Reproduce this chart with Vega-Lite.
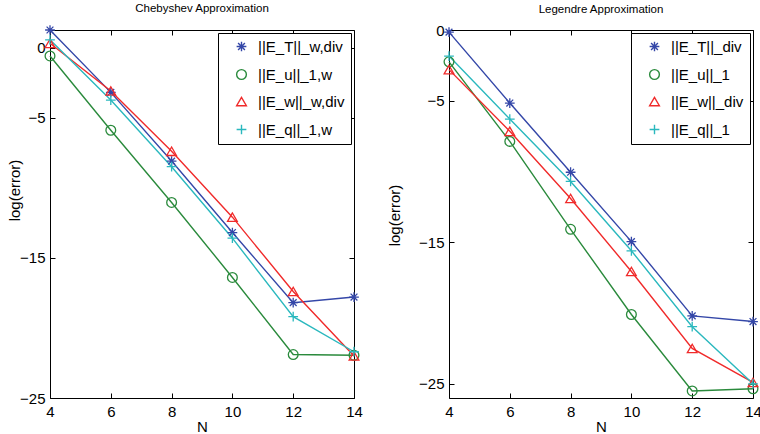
{
  "$schema": "https://vega.github.io/schema/vega-lite/v6.json",
  "background": "white",
  "padding": {"left": 6, "top": 2, "right": 5, "bottom": 0},
  "bounds": "flush",
  "spacing": 95,
  "config": {
    "font": "Liberation Sans",
    "view": {"stroke": "black", "strokeWidth": 1},
    "axis": {
      "grid": false, "domain": false, "tickColor": "black", "tickSize": -5, "tickWidth": 1, "labelFlush": false,
      "labelFontSize": 15, "labelColor": "black", "labelFont": "Liberation Sans",
      "titleFontSize": 15, "titleFontWeight": "normal", "titleColor": "black", "titleFont": "Liberation Sans"
    },
    "title": {"fontSize": 11.5, "fontWeight": "normal", "font": "Liberation Sans", "offset": 8, "color": "black"},
    "legend": {
      "orient": "top-right", "offset": 3, "fillColor": "white", "strokeColor": "black",
      "padding": 6, "rowPadding": 11, "labelFontSize": 15, "labelFont": "Liberation Sans",
      "labelColor": "black", "symbolSize": 95, "symbolStrokeWidth": 1.4, "symbolOffset": 10, "labelOffset": 9
    }
  },
  "datasets": {
    "cheb": [
      {"key": "T", "N": 4, "value": 1.25}, {"key": "T", "N": 6, "value": -3.2}, {"key": "T", "N": 8, "value": -8.1},
      {"key": "T", "N": 10, "value": -13.2}, {"key": "T", "N": 12, "value": -18.2}, {"key": "T", "N": 14, "value": -17.8},
      {"key": "u", "N": 4, "value": -0.6}, {"key": "u", "N": 6, "value": -5.9}, {"key": "u", "N": 8, "value": -11.05},
      {"key": "u", "N": 10, "value": -16.4}, {"key": "u", "N": 12, "value": -21.9}, {"key": "u", "N": 14, "value": -21.95},
      {"key": "w", "N": 4, "value": 0.3}, {"key": "w", "N": 6, "value": -3.1}, {"key": "w", "N": 8, "value": -7.4},
      {"key": "w", "N": 10, "value": -12.1}, {"key": "w", "N": 12, "value": -17.4}, {"key": "w", "N": 14, "value": -22.0},
      {"key": "q", "N": 4, "value": 0.55}, {"key": "q", "N": 6, "value": -3.75}, {"key": "q", "N": 8, "value": -8.5},
      {"key": "q", "N": 10, "value": -13.6}, {"key": "q", "N": 12, "value": -19.2}, {"key": "q", "N": 14, "value": -21.7}
    ],
    "leg": [
      {"key": "T", "N": 4, "value": -0.15}, {"key": "T", "N": 6, "value": -5.16}, {"key": "T", "N": 8, "value": -10.05},
      {"key": "T", "N": 10, "value": -14.95}, {"key": "T", "N": 12, "value": -20.2}, {"key": "T", "N": 14, "value": -20.6},
      {"key": "u", "N": 4, "value": -2.25}, {"key": "u", "N": 6, "value": -7.87}, {"key": "u", "N": 8, "value": -14.08},
      {"key": "u", "N": 10, "value": -20.1}, {"key": "u", "N": 12, "value": -25.5}, {"key": "u", "N": 14, "value": -25.35},
      {"key": "w", "N": 4, "value": -2.8}, {"key": "w", "N": 6, "value": -7.16}, {"key": "w", "N": 8, "value": -11.9},
      {"key": "w", "N": 10, "value": -17.06}, {"key": "w", "N": 12, "value": -22.5}, {"key": "w", "N": 14, "value": -24.9},
      {"key": "q", "N": 4, "value": -1.84}, {"key": "q", "N": 6, "value": -6.29}, {"key": "q", "N": 8, "value": -10.7},
      {"key": "q", "N": 10, "value": -15.6}, {"key": "q", "N": 12, "value": -20.96}, {"key": "q", "N": 14, "value": -25.0}
    ]
  },
  "resolve": {
    "scale": {"x": "independent", "y": "independent", "color": "independent", "shape": "independent"},
    "legend": {"color": "independent", "shape": "independent"}
  },
  "hconcat": [
    {
      "width": 304, "height": 368,
      "title": "Chebyshev Approximation",
      "data": {"name": "cheb"},
      "resolve": {"axis": {"x": "independent", "y": "independent"}},
      "layer": [
        {
          "mark": {"type": "line", "strokeWidth": 1.4},
          "encoding": {
            "x": {"field": "N", "type": "quantitative", "scale": {"domain": [4, 14], "nice": false, "zero": false},
                  "axis": {"orient": "bottom", "values": [4, 6, 8, 10, 12, 14], "labelPadding": 11, "title": "N", "titleFontSize": 15, "titlePadding": 0}},
            "y": {"field": "value", "type": "quantitative", "scale": {"domain": [-25, 1.25], "nice": false, "zero": false},
                  "axis": {"orient": "left", "values": [-25, -15, -5, 0], "labelPadding": 10, "title": "log(error)", "titleX": -36, "titleY": 160, "titleBaseline": "middle"}},
            "color": {"field": "key", "type": "nominal",
                      "scale": {"domain": ["T", "u", "w", "q"], "range": ["#3447a8", "#2a8a3c", "#f02a2a", "#2ab8be"]},
                      "legend": {
                        "title": null,
                        "labelExpr": "datum.value === 'T' ? '||E_T||_w,div' : datum.value === 'u' ? '||E_u||_1,w' : datum.value === 'w' ? '||E_w||_w,div' : '||E_q||_1,w'"
                      }}
          }
        },
        {
          "mark": {"type": "point", "filled": false, "size": 95, "strokeWidth": 1.3, "opacity": 1},
          "encoding": {
            "x": {"field": "N", "type": "quantitative", "scale": {"domain": [4, 14], "nice": false, "zero": false},
                  "axis": {"orient": "top", "values": [4, 6, 8, 10, 12, 14], "labels": false, "title": null}},
            "y": {"field": "value", "type": "quantitative", "scale": {"domain": [-25, 1.25], "nice": false, "zero": false},
                  "axis": {"orient": "right", "values": [-25, -15, -5, 0], "labels": false, "title": null}},
            "color": {"field": "key", "type": "nominal",
                      "scale": {"domain": ["T", "u", "w", "q"], "range": ["#3447a8", "#2a8a3c", "#f02a2a", "#2ab8be"]}},
            "shape": {"field": "key", "type": "nominal", "legend": null,
                      "scale": {"domain": ["T", "u", "w", "q"], "range": ["M-1,0L1,0M0,-1L0,1M-0.7,-0.7L0.7,0.7M-0.7,0.7L0.7,-0.7", "circle", "triangle-up", "M-1,0L1,0M0,-1L0,1"]}}
          }
        }
      ]
    },
    {
      "width": 304, "height": 368,
      "title": "Legendre Approximation",
      "data": {"name": "leg"},
      "resolve": {"axis": {"x": "independent", "y": "independent"}},
      "layer": [
        {
          "mark": {"type": "line", "strokeWidth": 1.4},
          "encoding": {
            "x": {"field": "N", "type": "quantitative", "scale": {"domain": [4, 14], "nice": false, "zero": false},
                  "axis": {"orient": "bottom", "values": [4, 6, 8, 10, 12, 14], "labelPadding": 11, "title": "N", "titleFontSize": 15, "titlePadding": 0}},
            "y": {"field": "value", "type": "quantitative", "scale": {"domain": [-26, 0], "nice": false, "zero": false},
                  "axis": {"orient": "left", "values": [-25, -15, -5, 0], "labelPadding": 10, "title": "log(error)", "titleX": -55, "titleY": 185, "titleBaseline": "middle"}},
            "color": {"field": "key", "type": "nominal",
                      "scale": {"domain": ["T", "u", "w", "q"], "range": ["#3447a8", "#2a8a3c", "#f02a2a", "#2ab8be"]},
                      "legend": {
                        "title": null,
                        "labelExpr": "datum.value === 'T' ? '||E_T||_div' : datum.value === 'u' ? '||E_u||_1' : datum.value === 'w' ? '||E_w||_div' : '||E_q||_1'"
                      }}
          }
        },
        {
          "mark": {"type": "point", "filled": false, "size": 95, "strokeWidth": 1.3, "opacity": 1},
          "encoding": {
            "x": {"field": "N", "type": "quantitative", "scale": {"domain": [4, 14], "nice": false, "zero": false},
                  "axis": {"orient": "top", "values": [4, 6, 8, 10, 12, 14], "labels": false, "title": null}},
            "y": {"field": "value", "type": "quantitative", "scale": {"domain": [-26, 0], "nice": false, "zero": false},
                  "axis": {"orient": "right", "values": [-25, -15, -5, 0], "labels": false, "title": null}},
            "color": {"field": "key", "type": "nominal",
                      "scale": {"domain": ["T", "u", "w", "q"], "range": ["#3447a8", "#2a8a3c", "#f02a2a", "#2ab8be"]}},
            "shape": {"field": "key", "type": "nominal", "legend": null,
                      "scale": {"domain": ["T", "u", "w", "q"], "range": ["M-1,0L1,0M0,-1L0,1M-0.7,-0.7L0.7,0.7M-0.7,0.7L0.7,-0.7", "circle", "triangle-up", "M-1,0L1,0M0,-1L0,1"]}}
          }
        }
      ]
    }
  ]
}
